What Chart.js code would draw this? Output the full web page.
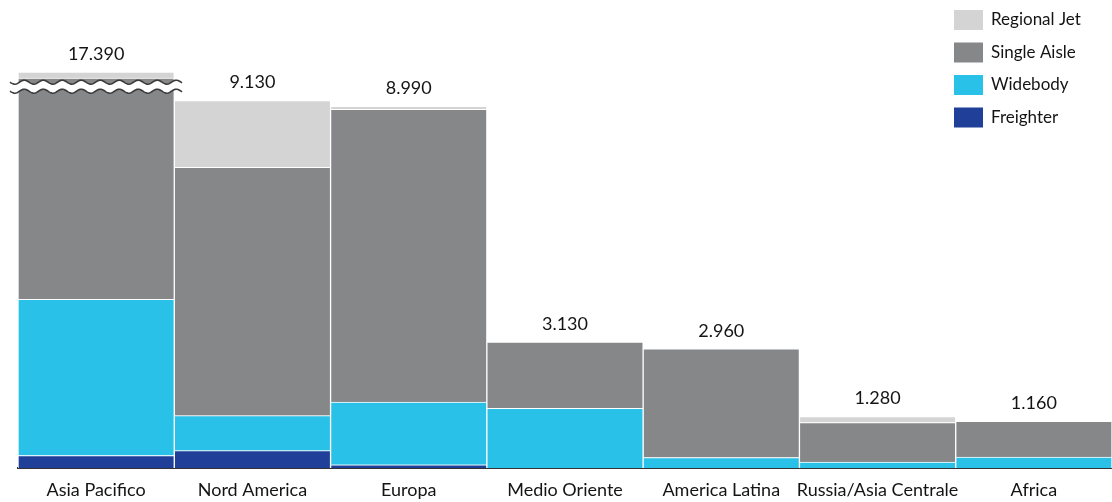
<!DOCTYPE html>
<html lang="it">
<head>
<meta charset="utf-8">
<title>Flotta per regione</title>
<script src="https://cdn.jsdelivr.net/npm/chart.js@4/dist/chart.umd.min.js"></script>
<style>
    html, body { margin: 0; padding: 0; background: #fff; }
    #contenitore { width: 1112px; height: 502px; position: relative; }
</style>
</head>
<body>
<div id="contenitore"><canvas id="grafico"></canvas></div>
<script>
const regioni = ['Asia Pacifico', 'Nord America', 'Europa', 'Medio Oriente', 'America Latina', 'Russia/Asia Centrale', 'Africa'];

// Consegne per segmento (unità), dal basso verso l'alto
const freighter   = [310, 430, 80, 0, 0, 0, 0];
const widebody    = [3880, 870, 1560, 1480, 260, 150, 270];
const singleAisle = [13050, 6170, 7270, 1650, 2700, 980, 890];
const regionalJet = [150, 1660, 80, 0, 0, 150, 0];

const colori = {
    regionalJet: '#d4d4d4',
    singleAisle: '#858789',
    widebody: '#29c1e7',
    freighter: '#1f3f99'
};

// L'asse viene "spezzato" tra questi due valori, così la barra
// dell'Asia Pacifico entra nel grafico
const interruzione = { da: 9500, a: 17050 };

const font = 'Lato, "Open Sans", sans-serif';

window.onload = () => {
    apresentarGrafico();
}

// Scala lineare con un tratto compresso
class ScalaInterrotta extends Chart.LinearScale {
    static id = 'interrotta';
    static defaults = Chart.LinearScale.defaults;

    comprimi(valore) {
        if (valore >= interruzione.a) return valore - (interruzione.a - interruzione.da);
        if (valore > interruzione.da) return interruzione.da;
        return valore;
    }

    getPixelForValue(valore, indice) {
        return super.getPixelForValue(this.comprimi(valore), indice);
    }
}
Chart.register(ScalaInterrotta);

function formatta(n) {
    return String(n).replace(/\B(?=(\d{3})+(?!\d))/g, '.');
}

function onda(x0, x1, y, ampiezza, periodo) {
    const punti = [];
    for (let x = x0; x <= x1; x += 1) {
        punti.push([x, y + Math.sin((x - x0) / periodo * 2 * Math.PI) * ampiezza]);
    }
    return punti;
}

// Totali sopra le barre + simbolo di interruzione sulla prima barra
const pluginEtichette = {
    id: 'etichette',
    afterDatasetsDraw(chart) {
        const ctx = chart.ctx;
        const x = chart.scales.x;
        const y = chart.scales.y;

        // simbolo di interruzione
        const meta = chart.getDatasetMeta(0).data[0];
        const sx0 = meta.x - meta.width / 2 - 8;
        const sx1 = meta.x + meta.width / 2 + 8;
        const yb = y.getPixelForValue(interruzione.da) + 1;
        const sopra = onda(sx0, sx1, yb - 4.5, 2, 19);
        const sotto = onda(sx0, sx1, yb + 4.5, 2, 19);
        ctx.save();
        ctx.beginPath();
        sopra.forEach((p, i) => i ? ctx.lineTo(p[0], p[1]) : ctx.moveTo(p[0], p[1]));
        sotto.slice().reverse().forEach(p => ctx.lineTo(p[0], p[1]));
        ctx.closePath();
        ctx.fillStyle = '#fff';
        ctx.fill();
        ctx.strokeStyle = '#3a3a3a';
        ctx.lineWidth = 1.6;
        [sopra, sotto].forEach(linea => {
            ctx.beginPath();
            linea.forEach((p, i) => i ? ctx.lineTo(p[0], p[1]) : ctx.moveTo(p[0], p[1]));
            ctx.stroke();
        });

        // totali
        ctx.fillStyle = '#141414';
        ctx.font = '18px ' + font;
        ctx.textAlign = 'center';
        ctx.textBaseline = 'middle';
        regioni.forEach((r, i) => {
            const totale = freighter[i] + widebody[i] + singleAisle[i] + regionalJet[i];
            ctx.fillText(formatta(totale), x.getPixelForValue(i), y.getPixelForValue(totale) - 18);
        });
        ctx.restore();
    },
    afterDraw(chart) {
        // legenda in alto a destra, sopra le barre
        const ctx = chart.ctx;
        const voci = chart.data.datasets.slice().reverse();
        ctx.save();
        ctx.font = '17px ' + font;
        ctx.textAlign = 'left';
        ctx.textBaseline = 'middle';
        voci.forEach((ds, i) => {
            const cy = 20 + i * 32.5;
            ctx.fillStyle = ds.backgroundColor;
            ctx.fillRect(954, cy - 10, 29, 20);
            ctx.fillStyle = '#141414';
            ctx.fillText(ds.label, 991, cy);
        });
        ctx.restore();
    }
};

function apresentarGrafico() {
    const serie = [
        { label: 'Freighter', data: freighter, backgroundColor: colori.freighter },
        { label: 'Widebody', data: widebody, backgroundColor: colori.widebody },
        { label: 'Single Aisle', data: singleAisle, backgroundColor: colori.singleAisle },
        { label: 'Regional Jet', data: regionalJet, backgroundColor: colori.regionalJet }
    ];

    new Chart(document.getElementById('grafico'), {
        type: 'bar',
        data: {
            labels: regioni,
            datasets: serie.map(s => ({
                ...s,
                borderColor: '#ffffff',
                borderWidth: 1,
                categoryPercentage: 1,
                barPercentage: 1
            }))
        },
        options: {
            responsive: true,
            maintainAspectRatio: false,
            animation: false,
            layout: { padding: { top: 72, left: 18, right: 0, bottom: 0 } },
            plugins: {
                legend: { display: false },
                tooltip: { enabled: false }
            },
            scales: {
                x: {
                    stacked: true,
                    grid: { display: false, drawTicks: false },
                    border: { display: true, color: '#333333', width: 2 },
                    ticks: {
                        color: '#141414',
                        font: { family: font, size: 18 },
                        padding: 11,
                        maxRotation: 0,
                        minRotation: 0,
                        autoSkip: false
                    },
                    afterFit(scala) {
                        // nessun margine extra per le etichette ai bordi
                        scala.paddingLeft = 0;
                        scala.paddingRight = 0;
                        scala.height = 34;
                    }
                },
                y: {
                    type: 'interrotta',
                    stacked: true,
                    display: false,
                    min: 0,
                    max: 9840
                }
            }
        },
        plugins: [pluginEtichette]
    });
}
</script>
</body>
</html>
